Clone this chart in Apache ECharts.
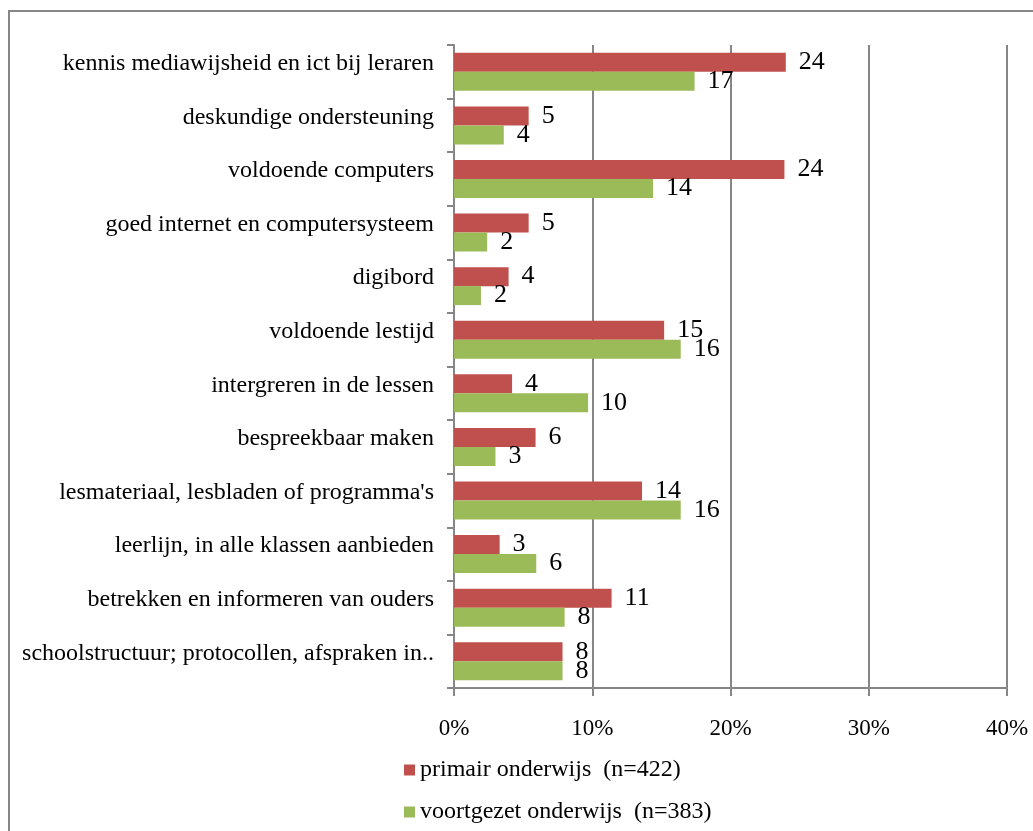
<!DOCTYPE html>
<html>
<head>
<meta charset="utf-8">
<script src="https://cdn.jsdelivr.net/npm/echarts@6/dist/echarts.min.js"></script>
<style>
html,body{margin:0;padding:0;background:#fff;}
#c{width:1033px;height:831px;}
</style>
</head>
<body>
<div id="c"></div>
<script>
const categories = [
  "kennis mediawijsheid en ict bij leraren",
  "deskundige ondersteuning",
  "voldoende computers",
  "goed internet en computersysteem",
  "digibord",
  "voldoende lestijd",
  "intergreren in de lessen",
  "bespreekbaar maken",
  "lesmateriaal, lesbladen of programma's",
  "leerlijn, in alle klassen aanbieden",
  "betrekken en informeren van ouders",
  "schoolstructuur; protocollen, afspraken in.."
];
const primair = [24.0, 5.4, 23.9, 5.4, 3.95, 15.2, 4.2, 5.9, 13.6, 3.3, 11.4, 7.85];
const voortgezet = [17.4, 3.6, 14.4, 2.4, 1.95, 16.4, 9.7, 3.0, 16.4, 5.95, 8.0, 7.85];
const seriesNames = ["primair onderwijs  (n=422)", "voortgezet onderwijs  (n=383)"];
const xTicks = { min: 0, max: 40, interval: 10 };

const FONT = "Liberation Serif";
const GRAY = "#868686";
const chart = echarts.init(document.getElementById('c'), null, { renderer: 'canvas' });
const labelCfg = {
  show: true, position: 'right', distance: 13,
  fontFamily: FONT, fontSize: 26, color: '#000',
  formatter: p => String(Math.round(p.value))
};
chart.setOption({
  animation: false,
  backgroundColor: '#fff',
  graphic: [{
    type: 'rect', silent: true,
    shape: { x: 9, y: 11, width: 1040, height: 840 },
    style: { fill: 'none', stroke: GRAY, lineWidth: 2 }
  }],
  grid: { left: 454, right: 26, top: 45, bottom: 143, containLabel: false },
  xAxis: {
    type: 'value', min: xTicks.min, max: xTicks.max, interval: xTicks.interval,
    axisLine: { show: true, lineStyle: { color: GRAY, width: 2 } },
    axisTick: { show: true, length: 8, lineStyle: { color: GRAY, width: 2 } },
    splitLine: { show: true, lineStyle: { color: GRAY, width: 2 } },
    axisLabel: { formatter: '{value}%', fontFamily: FONT, fontSize: 23, color: '#000', margin: 29 }
  },
  yAxis: {
    type: 'category', inverse: true, data: categories,
    axisLine: { show: true, lineStyle: { color: GRAY, width: 2 } },
    axisTick: { show: true, length: 7, lineStyle: { color: GRAY, width: 2 } },
    splitLine: { show: false },
    axisLabel: { fontFamily: FONT, fontSize: 24, color: '#000', margin: 20,
      verticalAlign: 'bottom', lineHeight: 16 }
  },
  legend: {
    orient: 'vertical', left: 404, top: 758, padding: 0, itemGap: 18, height: 70,
    icon: 'rect', itemWidth: 11, itemHeight: 11,
    textStyle: { fontFamily: FONT, fontSize: 24, color: '#000' },
    data: seriesNames
  },
  series: [
    { name: seriesNames[0], type: 'bar', data: primair, barWidth: 19, barGap: '0%',
      itemStyle: { color: '#C0504D' }, label: labelCfg },
    { name: seriesNames[1], type: 'bar', data: voortgezet, barWidth: 19, barGap: '0%',
      itemStyle: { color: '#9BBB59' }, label: labelCfg }
  ]
});
</script>
</body>
</html>
